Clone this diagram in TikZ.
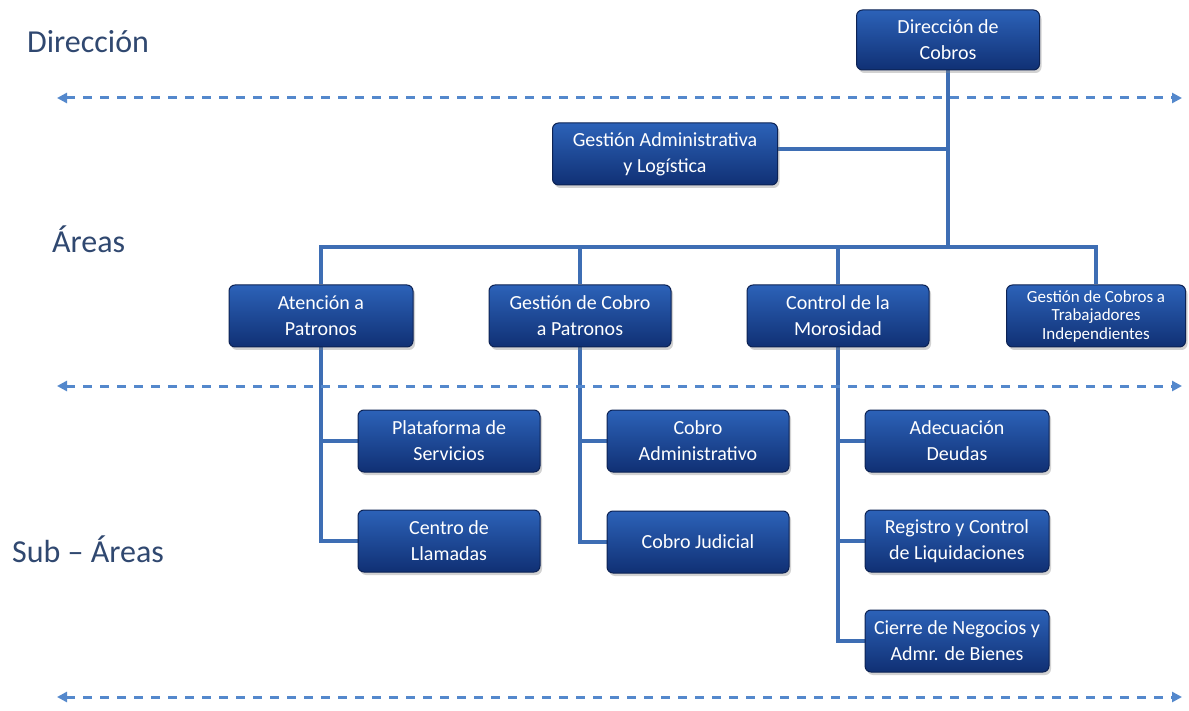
\documentclass[tikz,border=0pt]{standalone}
\usepackage{fontspec}
\setmainfont{Carlito}
\usetikzlibrary{shadows,arrows.meta,backgrounds}
\definecolor{boxtop}{RGB}{44,98,184}
\definecolor{boxbot}{RGB}{16,48,116}
\definecolor{boxedge}{RGB}{12,34,84}
\definecolor{linkblue}{RGB}{62,110,180}
\definecolor{dashblue}{RGB}{84,136,204}
\definecolor{levelink}{RGB}{48,72,112}
\tikzset{
  orgbox/.style={rectangle, rounded corners=6pt, top color=boxtop, bottom color=boxbot,
    draw=boxedge, line width=1pt, text=white, align=center, inner sep=0pt,
    minimum width=182pt, minimum height=62pt,
    font=\fontsize{20}{26}\selectfont,
    drop shadow={shadow xshift=2pt, shadow yshift=-3pt, opacity=0.35}},
  smallbox/.style={orgbox, font=\fontsize{17}{18.5}\selectfont},
  link/.style={draw=linkblue, line width=4.2pt},
  levelsep/.style={draw=dashblue, line width=3pt, dash pattern=on 9pt off 8pt,
    {Triangle[length=10pt,width=10pt]}-{Triangle[length=10pt,width=10pt]}},
  levellabel/.style={anchor=base west, text=levelink, inner sep=0pt,
    font=\fontsize{32}{36}\selectfont}
}
\begin{document}
\begin{tikzpicture}[x=1pt,y=-1pt]
\useasboundingbox (0,0) rectangle (1189,711);

% level labels
\node[levellabel] (lvdir) at (27,53) {Dirección};
\node[levellabel] (lvarea) at (52,253) {Áreas};
\node[levellabel] (lvsub) at (12,562) {Sub – Áreas};

% level separators
\coordinate (s1l) at (57,98);   \coordinate (s1r) at (1182,98);
\coordinate (s2l) at (57,386);  \coordinate (s2r) at (1182,386);
\coordinate (s3l) at (57,697);  \coordinate (s3r) at (1182,697);
\draw[levelsep] (s1l) -- (s1r);
\draw[levelsep] (s2l) -- (s2r);
\draw[levelsep] (s3l) -- (s3r);

% boxes
\node[orgbox, minimum width=183pt, minimum height=60pt] (dir) at (948,40) {Dirección de\\Cobros};
\node[orgbox, minimum width=225pt] (gal) at (665,154) {Gestión Administrativa\\y Logística};

\node[orgbox, minimum width=184pt] (atp) at (321,316) {Atención a\\Patronos};
\node[orgbox] (gcp) at (580,316) {Gestión de Cobro\\a Patronos};
\node[orgbox] (cmo) at (838,316) {Control de la\\Morosidad};
\node[smallbox, minimum width=179pt] (gti) at (1096,316) {Gestión de Cobros a\\Trabajadores\\Independientes};

\node[orgbox] (pds) at (449,441) {Plataforma de\\Servicios};
\node[orgbox] (cll) at (449,541) {Centro de\\Llamadas};
\node[orgbox] (cad) at (698,441) {Cobro\\Administrativo};
\node[orgbox] (cju) at (698,542) {Cobro Judicial};
\node[orgbox, minimum width=184pt] (ade) at (957,441) {Adecuación\\Deudas};
\node[orgbox, minimum width=184pt] (rcl) at (957,541) {Registro y Control\\de Liquidaciones};
\node[orgbox, minimum width=184pt] (cnb) at (957,641) {Cierre de Negocios y\\Admr. de Bienes};

% white page and connectors, behind the boxes
\coordinate (bus) at (0,247);
\begin{pgfonlayer}{background}
  \fill[white] (0,0) rectangle (1189,711);
  \draw[link] (dir.south) -- (dir.south |- bus);
  \draw[link] ([yshift=5pt]gal.east) -- ([yshift=5pt]gal.east -| dir.south);
  \draw[link] (atp.north) -- (atp.north |- bus) -- (gti.north |- bus) -- (gti.north);
  \draw[link] (gcp.north) -- (gcp.north |- bus);
  \draw[link] (cmo.north) -- (cmo.north |- bus);
  \draw[link] (atp.south) |- (pds.west);
  \draw[link] (atp.south) |- (cll.west);
  \draw[link] (gcp.south) |- (cad.west);
  \draw[link] (gcp.south) |- (cju.west);
  \draw[link] (cmo.south) |- (ade.west);
  \draw[link] (cmo.south) |- (rcl.west);
  \draw[link] (cmo.south) |- (cnb.west);
\end{pgfonlayer}
\end{tikzpicture}
\end{document}
